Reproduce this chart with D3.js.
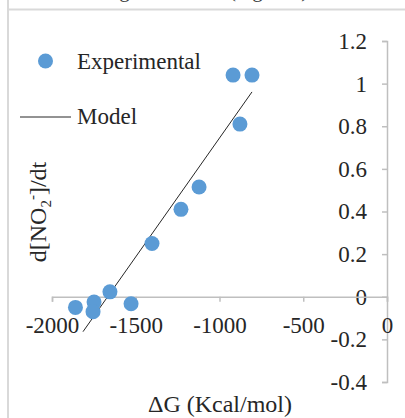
<!DOCTYPE html>
<html>
<head>
<meta charset="utf-8">
<script src="https://cdn.jsdelivr.net/npm/d3@7"></script>
<style>
  body { margin: 0; background: #fff; }
  svg { display: block; }
  text { font-family: "Liberation Serif", "Times New Roman", serif; }
</style>
</head>
<body>
<script>
// values
let expX = [-919, -806, -878, -1122, -1230, -1403, -1654, -1528, -1749, -1755, -1860];
let expY = [1.04, 1.04, 0.81, 0.515, 0.41, 0.25, 0.023, -0.033, -0.025, -0.07, -0.05];
let modelX = [-1815, -806];
let modelY = [-0.164, 0.961];
let xTicks = [-2000, -1500, -1000, -500, 0];
let yTicks = [-0.4, -0.2, 0, 0.2, 0.4, 0.6, 0.8, 1, 1.2];

let svgWidth = 405;
let svgHeight = 418;

let svg = d3.select("body")
  .append("svg")
  .attr("width", svgWidth)
  .attr("height", svgHeight);

// frame of the chart area (partly cut off in the picture)
svg.append("line")
  .attr("x1", 8).attr("x2", 8)
  .attr("y1", 0).attr("y2", svgHeight)
  .attr("stroke", "#d9d9d9").attr("stroke-width", 2);
svg.append("line")
  .attr("x1", 8).attr("x2", svgWidth)
  .attr("y1", 9.5).attr("y2", 9.5)
  .attr("stroke", "#d9d9d9").attr("stroke-width", 2);

// title of the chart above, only its descenders are visible
svg.append("text")
  .attr("x", 75)
  .attr("y", -3)
  .attr("font-size", 21)
  .attr("fill", "#404040")
  .text("Nitrogen removal (mg/mol)");

let xScale = d3.scaleLinear().domain([-2000, 0]).range([52, 387]);
let yScale = d3.scaleLinear().domain([-0.4, 1.2]).range([382, 41]);

let fmt = d => String(d).replace("\u2212", "-");

// y axis at x = 0
let yAxis = d3.axisLeft(yScale)
  .tickValues(yTicks)
  .tickSize(5)
  .tickPadding(15)
  .tickFormat(fmt);

let yG = svg.append("g")
  .attr("transform", `translate(${xScale(0)},0)`)
  .call(yAxis);

// x axis at y = 0
let xAxis = d3.axisBottom(xScale)
  .tickValues(xTicks)
  .tickSize(5)
  .tickPadding(15)
  .tickFormat(fmt);

let xG = svg.append("g")
  .attr("transform", `translate(0,${yScale(0)})`)
  .call(xAxis);

[xG, yG].forEach(g => {
  g.select(".domain").attr("stroke", "#bfbfbf").attr("stroke-width", 1.5);
  g.selectAll(".tick line").attr("stroke", "#bfbfbf").attr("stroke-width", 1.5);
  g.selectAll(".tick text")
    .attr("fill", "#262626")
    .style("font-family", '"Liberation Serif", "Times New Roman", serif')
    .style("font-size", "23px");
});

// model line
let drawLine = d3.line()
  .x(d => xScale(d[0]))
  .y(d => yScale(d[1]));

svg.append("path")
  .attr("d", drawLine(modelX.map((x, i) => [x, modelY[i]])))
  .attr("fill", "none")
  .attr("stroke", "#262626")
  .attr("stroke-width", 1);

// experimental points
svg.selectAll("circle.exp")
  .data(expX.map((x, i) => [x, expY[i]]))
  .enter()
  .append("circle")
  .classed("exp", true)
  .attr("cx", d => xScale(d[0]))
  .attr("cy", d => yScale(d[1]))
  .attr("r", 7.5)
  .attr("fill", "#5b9bd5");

// axis titles
svg.append("text")
  .attr("x", 220)
  .attr("y", 412)
  .attr("text-anchor", "middle")
  .attr("font-size", 24)
  .attr("fill", "#262626")
  .text("\u0394G (Kcal/mol)");

let yLabel = svg.append("text")
  .attr("transform", "translate(46,212) rotate(-90)")
  .attr("text-anchor", "middle")
  .attr("font-size", 24)
  .attr("fill", "#262626");
yLabel.append("tspan").text("d[NO");
yLabel.append("tspan").attr("font-size", 15).attr("dy", 5).text("2");
yLabel.append("tspan").attr("font-size", 15).attr("dy", -14).text("-");
yLabel.append("tspan").attr("dy", 9).text("]/dt");

// legend
svg.append("circle")
  .attr("cx", 45.5)
  .attr("cy", 61)
  .attr("r", 7.5)
  .attr("fill", "#5b9bd5");
svg.append("text")
  .attr("x", 77)
  .attr("y", 69)
  .attr("font-size", 23)
  .attr("fill", "#262626")
  .text("Experimental");

svg.append("line")
  .attr("x1", 20).attr("x2", 71)
  .attr("y1", 117).attr("y2", 117)
  .attr("stroke", "#262626")
  .attr("stroke-width", 1);
svg.append("text")
  .attr("x", 77)
  .attr("y", 124)
  .attr("font-size", 23)
  .attr("fill", "#262626")
  .text("Model");
</script>
</body>
</html>
